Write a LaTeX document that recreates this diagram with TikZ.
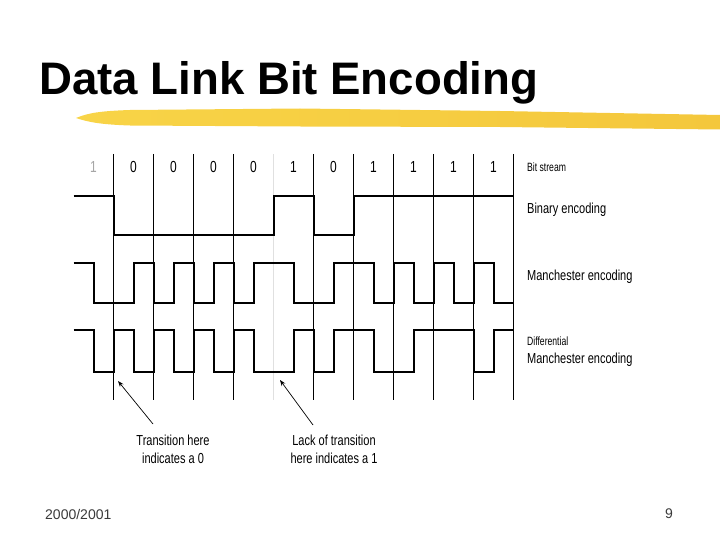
\documentclass[tikz,border=0pt]{standalone}
\usepackage{fontspec}
\setmainfont{Liberation Sans}
\usetikzlibrary{arrows.meta}
\definecolor{brushA}{HTML}{F8D447}
\definecolor{brushB}{HTML}{EDB612}
\definecolor{brushC}{HTML}{F4C73C}
\definecolor{footgray}{HTML}{3A3A3A}
\tikzset{
  gridline/.style={line width=0.8pt, black},
  faintline/.style={line width=0.8pt, black!12},
  wave/.style={line width=2pt, black, line join=miter},
  lbl/.style={anchor=west, inner sep=0pt, font=\fontsize{14.5}{16}\selectfont, xscale=0.76},
  smalllbl/.style={anchor=west, inner sep=0pt, font=\fontsize{12}{14}\selectfont, xscale=0.72},
  bitlbl/.style={anchor=center, inner sep=0pt, font=\fontsize{16}{18}\selectfont, xscale=0.75},
  note/.style={anchor=center, inner sep=0pt, font=\fontsize{14.5}{16}\selectfont, xscale=0.76},
  pointer/.style={line width=0.7pt, black, -{Stealth[length=6pt,width=4.5pt]}},
  foot/.style={inner sep=0pt, font=\fontsize{14}{16}\selectfont, text=footgray}
}
\begin{document}
\begin{tikzpicture}[x=1pt,y=-1pt]
\useasboundingbox (0,0) rectangle (720,540);

% title
\node[anchor=base west, inner sep=0pt, font=\fontsize{45.6}{50}\selectfont\bfseries] (title) at (39,95) {Data Link Bit Encoding};

% brush stroke
\shade[left color=brushA, middle color=brushB, right color=brushC]
  (76,118) .. controls (88,113) and (100,111) .. (130,110)
  -- (300,108.5) -- (500,111) -- (720,115) -- (720,129.5)
  -- (500,127) -- (300,126.5) -- (130,125.5) .. controls (100,124.5) and (88,122) .. (76,118) -- cycle;

% grid lines
\foreach \k in {1,2,3,4,6,7,8,9,10,11}{
  \draw[gridline] ({113.5+40*(\k-1)},154) -- ({113.5+40*(\k-1)},400);
}
\draw[faintline] (273.5,154) -- (273.5,400);

% bit labels
\node[bitlbl, text=black!35] (b0) at (93.5,167) {1};
\foreach \b [count=\i from 1] in {0,0,0,0,1,0,1,1,1,1}{
  \node[bitlbl] (b\i) at ({93.5+40*\i},167) {\b};
}

% binary encoding
\draw[wave] (73.5,196) -| (113.5,235) -| (273.5,196) -| (313.5,235) -| (353.5,196) -- (513.5,196);

% Manchester encoding
\draw[wave] (73.5,263) -- (93.5,263) -- (93.5,303) -- (133.5,303) -- (133.5,263)
  -- (153.5,263) -- (153.5,303) -- (173.5,303) -- (173.5,263) -- (193.5,263)
  -- (193.5,303) -- (213.5,303) -- (213.5,263) -- (233.5,263) -- (233.5,303)
  -- (253.5,303) -- (253.5,263) -- (293.5,263) -- (293.5,303) -- (333.5,303)
  -- (333.5,263) -- (373.5,263) -- (373.5,303) -- (393.5,303) -- (393.5,263)
  -- (413.5,263) -- (413.5,303) -- (433.5,303) -- (433.5,263) -- (453.5,263)
  -- (453.5,303) -- (473.5,303) -- (473.5,263) -- (493.5,263) -- (493.5,303)
  -- (513.5,303);

% Differential Manchester encoding
\draw[wave] (73.5,330) -- (93.5,330) -- (93.5,372) -- (113.5,372) -- (113.5,330)
  -- (133.5,330) -- (133.5,372) -- (153.5,372) -- (153.5,330) -- (173.5,330)
  -- (173.5,372) -- (193.5,372) -- (193.5,330) -- (213.5,330) -- (213.5,372)
  -- (233.5,372) -- (233.5,330) -- (253.5,330) -- (253.5,372) -- (293.5,372)
  -- (293.5,330) -- (313.5,330) -- (313.5,372) -- (333.5,372) -- (333.5,330)
  -- (373.5,330) -- (373.5,372) -- (413.5,372) -- (413.5,330) -- (473.5,330)
  -- (473.5,372) -- (493.5,372) -- (493.5,330) -- (513.5,330);

% right labels
\node[smalllbl] (lbits) at (527,167) {Bit stream};
\node[lbl] (lbin) at (527,210) {Binary encoding};
\node[lbl] (lman) at (527,277) {Manchester encoding};
\node[smalllbl] (ldiff1) at (527,341) {Differential};
\node[lbl] (ldiff2) at (527,360) {Manchester encoding};

% notes
\node[note] (n1a) at (173,440) {Transition here};
\node[note] (n1b) at (173,458) {indicates a 0};
\node[note] (n2a) at (334,440) {Lack of transition};
\node[note] (n2b) at (334,458) {here indicates a 1};

\coordinate (n1tail) at (153,424);
\coordinate (n1tip) at (118,381);
\coordinate (n2tail) at (313,425);
\coordinate (n2tip) at (280,380);
\draw[pointer] (n1tail) -- (n1tip);
\draw[pointer] (n2tail) -- (n2tip);

% footer
\node[foot, anchor=west] (year) at (45,514) {2000/2001};
\node[foot, anchor=center] (page) at (669,514) {9};
\end{tikzpicture}
\end{document}
